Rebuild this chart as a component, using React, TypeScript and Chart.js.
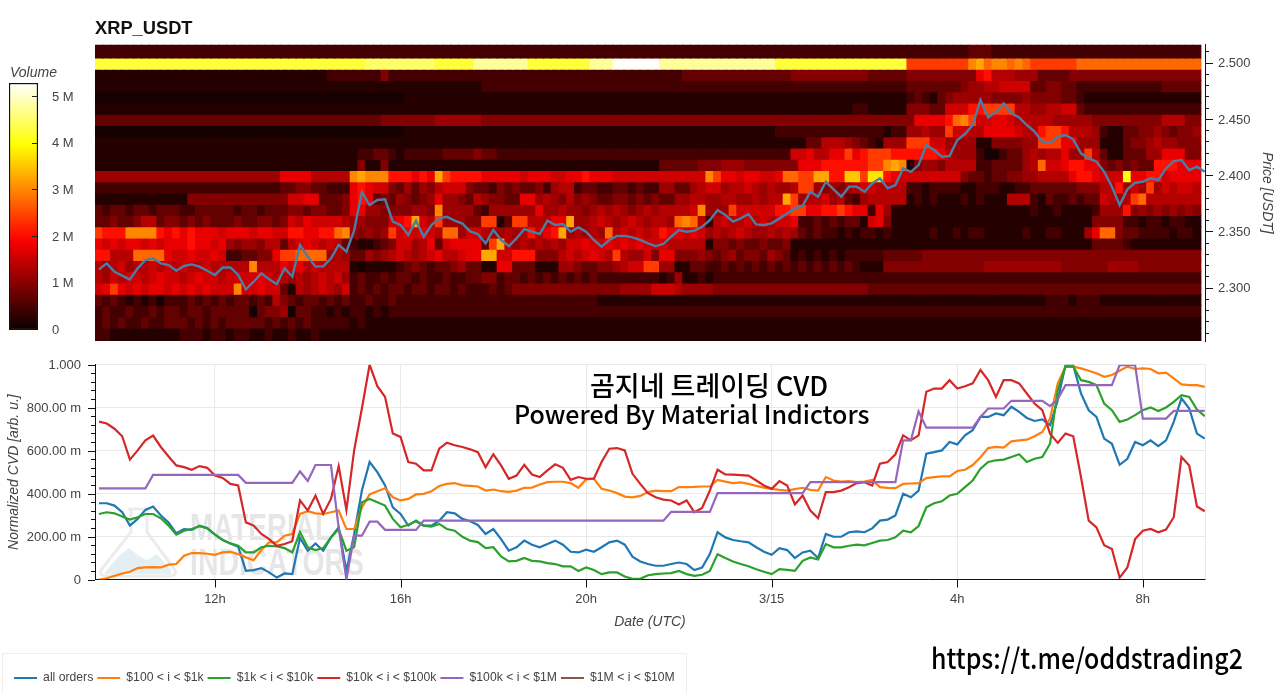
import React, { useEffect, useRef } from "react";
import { Chart, registerables } from "chart.js";

Chart.register(...registerables);

// ---------- data ----------
const seriesNames = ["all orders", "$100 < i < $1k", "$1k < i < $10k", "$10k < i < $100k", "$100k < i < $1M", "$1M < i < $10M"];
const seriesColors = ["#1f77b4", "#ff7f0e", "#2ca02c", "#d62728", "#9467bd", "#8c564b"];

// normalized CVD, in thousandths, one value per 10 minutes from 09:30
const cvdAll = [
  355,355,344,313,251,282,324,340,298,266,
  215,235,231,251,240,209,184,168,153,40,
  44,53,33,9,28,25,193,134,168,134,
  196,243,40,212,414,547,500,438,336,305,
  251,274,251,251,274,313,308,282,271,254,
  212,235,188,134,150,181,162,150,165,181,
  162,129,126,139,129,150,173,181,162,106,
  84,72,64,64,72,79,72,44,56,118,
  220,196,184,178,173,150,129,115,146,137,
  100,126,134,100,212,199,199,220,224,220,
  238,274,279,298,399,383,414,586,593,601,
  640,629,671,695,757,757,773,765,804,780,
  752,738,745,718,835,998,998,866,788,757,
  656,632,534,562,640,625,648,621,648,734,
  843,796,679,656];
const cvd100 = [
  0,6,17,28,36,53,56,58,56,69,
  72,111,123,123,120,115,126,129,118,103,
  90,137,173,173,204,212,305,318,308,305,
  313,321,235,235,336,396,411,425,383,368,
  375,396,399,411,435,445,449,438,436,433,
  414,419,411,408,414,427,428,442,453,455,
  455,449,427,466,469,422,414,402,386,382,
  389,407,414,411,411,430,430,431,433,433,
  464,456,449,452,445,436,428,422,417,414,
  421,427,417,414,477,461,456,458,453,456,
  464,430,427,425,445,447,449,472,477,480,
  480,505,511,533,569,612,617,614,643,648,
  651,667,687,749,913,991,991,983,972,960,
  944,952,972,991,980,983,980,960,963,936,
  908,905,905,897];
const cvd1k = [
  305,313,308,293,279,290,305,305,285,251,
  209,227,235,248,238,209,184,168,157,126,
  126,150,157,154,146,126,220,150,137,146,
  196,235,134,150,360,375,360,344,282,243,
  255,271,251,246,259,235,227,199,181,174,
  146,150,107,84,87,100,87,84,76,72,
  61,61,40,56,44,25,33,33,14,3,
  3,20,25,28,30,40,25,17,22,40,
  118,100,84,72,62,48,36,25,48,45,
  40,87,103,93,165,150,150,157,162,159,
  170,181,184,196,227,220,249,336,355,364,
  391,399,430,461,516,547,555,558,570,583,
  547,562,570,632,882,991,991,928,920,905,
  819,788,734,745,765,788,801,784,801,827,
  858,850,791,760];
const cvd10k = [
  735,726,702,667,558,601,648,670,617,573,
  531,523,511,528,520,484,473,445,438,266,
  251,212,188,157,165,178,368,321,391,305,
  375,528,324,601,796,1000,900,850,680,664,
  547,539,508,508,609,637,625,617,606,593,
  523,583,531,469,484,534,489,477,508,536,
  520,464,477,469,469,547,609,612,601,492,
  445,402,383,372,368,349,368,313,333,414,
  511,489,488,486,484,461,438,422,458,438,
  349,391,321,285,407,407,414,430,449,453,
  438,539,547,583,671,648,671,874,889,889,
  928,889,900,913,975,928,850,928,928,913,
  866,819,788,679,636,679,667,477,274,243,
  160,142,9,56,188,227,235,220,232,290,
  570,531,340,318];
const cvd100k = [
  424,424,424,424,424,424,424,487,487,487,
  487,487,487,487,487,487,487,487,487,450,
  450,450,450,450,450,450,503,459,533,533,
  533,240,0,204,204,269,269,231,231,231,
  231,231,274,274,274,274,274,274,274,274,
  274,274,274,274,274,274,274,274,274,274,
  274,274,274,274,274,274,274,274,274,274,
  274,274,274,274,315,315,315,315,315,315,
  402,402,402,402,402,402,402,402,402,402,
  402,402,453,453,453,453,453,453,453,453,
  453,453,453,453,648,648,783,707,707,707,
  707,707,707,707,757,796,796,796,832,832,
  832,832,832,807,840,905,905,905,905,905,
  905,905,998,998,998,749,749,749,749,785,
  785,785,785,785];
const cvd1m: number[] = [];

const priceLine = [
  2.3163,2.3216,2.3142,2.3107,2.3074,2.3172,2.3246,2.326,2.3216,2.3201,
  2.315,2.3193,2.3207,2.3187,2.315,2.3113,2.318,2.318,2.3113,2.2985,
  2.3053,2.3127,2.3074,2.3033,2.3172,2.3098,2.3379,2.3276,2.3187,2.319,
  2.326,2.338,2.332,2.351,2.385,2.3735,2.378,2.3785,2.3587,2.3557,
  2.347,2.3596,2.3453,2.3557,2.3616,2.363,2.3596,2.357,2.35,2.3477,
  2.3394,2.3513,2.3424,2.337,2.3438,2.352,2.3498,2.3477,2.3596,2.3557,
  2.3566,2.3498,2.3536,2.3498,2.3424,2.3364,2.3424,2.346,2.346,2.3447,
  2.3424,2.3394,2.337,2.3388,2.3453,2.3513,2.3498,2.3507,2.3542,2.36,
  2.369,2.3646,2.3587,2.3616,2.3655,2.3563,2.3557,2.3572,2.3616,2.366,
  2.3705,2.3726,2.3853,2.3809,2.3942,2.3874,2.3809,2.3898,2.3898,2.3853,
  2.3927,2.3972,2.3883,2.3913,2.406,2.403,2.409,2.4268,2.4224,2.4164,
  2.417,2.4313,2.4366,2.4446,2.467,2.4514,2.4564,2.4639,2.455,2.4514,
  2.4446,2.4387,2.4298,2.4289,2.4342,2.4357,2.4319,2.4194,2.415,2.412,
  2.403,2.3898,2.3735,2.3874,2.3933,2.3942,2.3972,2.3957,2.406,2.4126,
  2.4135,2.4046,2.4076,2.403];

// heat map: one string per price row, one character per 10-minute column (volume level, see levelChars)
const levelChars = "0123456789abcdefghijkl";
const levelVolumes = [0.1, 0.2, 0.45, 0.7, 0.95, 1.15, 1.35, 1.55, 1.75, 2.05, 2.4, 2.75, 3, 3.25, 3.5, 3.75, 4, 4.25, 4.5, 4.75, 5, 5.25];
const row2509 = "2222222222 2222222222 2222222222 2222222222 2222222222 2222222222 2222222222 2222222222 2222222222 2222222222 2222222222 2223332222 2222222222 2222222222 222";
const row2499 = "hhhhhhhhhh hhhhhhhhhh hhhhhhhhhh hhhhhiiiii iiiihhhhhj jjjjjjhhhh hhhhjjjlll llljjjjjjj jjjjjjjjhh hhhhhhhhhh hhhhhaaaaa aaacdbccbc baaaaaabbb bbbbbbbbbb bbb";
const row2489 = "1111111111 1111111111 1111111111 2222222422 2222222222 2222222222 2222222222 2222223333 3333333333 4444444444 3333344444 4444896665 5533334444 4444444444 444";
const row2479 = "1111111111 1111111111 1111111111 1111111111 1111111111 2222222222 2222222222 2222222222 2222222222 2222222222 2222233333 3345566777 7334433222 2222222233 333";
const row2469 = "0000000000 0000000000 0000000000 0000000000 1111111111 1111111111 1111111111 1111111111 1111111111 1111111111 1111123213 4555554444 5444433211 1111111111 111";
const row2459 = "1111111111 1111111111 1111111111 1111111111 1111111111 1111111111 1111111111 1111111111 1111111111 1111111122 1111144433 77799aaaa6 6556677322 2222222222 222";
const row2449 = "3333333333 3333333333 3333333333 3333333444 4444555555 4444444444 4444444444 4444444444 4444444444 4444444444 4444448888 9bca778876 6666555554 4444444466 644";
const row2439 = "0000000000 0000000000 0000000000 0000000000 1111111111 1111111111 1111111111 1111111111 1111111122 2222222222 2212255655 a776688887 669aa96665 2113344543 445";
const row2429 = "1111111111 1111111111 1111111111 1111111111 1111111111 1111111111 1111111111 1111111111 1111111111 1133666543 21555aaa77 5555114444 55aaa88555 1113445655 444";
const row2419 = "1111111111 1111111111 1111111111 1111223321 2222233334 3322222222 2222222222 2222222222 2222222222 7786688a89 aaa9999998 6555200233 56566855a6 3113335588 844";
const row2409 = "1111111111 1111111111 1111111111 1111411411 1111111111 1111111111 1111111111 1113333344 4555444444 4888999999 aacdc14554 6666223333 56b7789988 4343433999 888";
const row2399 = "5555555555 5555555555 5555888866 666cdccc99 9898da9999 8888878887 7889888777 777777777c a88788778b baadd99eea ff98777777 7743323344 5566668998 777g889978 888";
const row2389 = "2222222222 2222222222 2222334433 2228987743 5354677743 3243433425 6623322332 3225533567 7566765655 6aa5454567 7666622122 2211222112 2333333444 669575a576 776";
const row2379 = "1111111111 1144444444 4444477883 3348983435 4345855436 5443388565 4645433443 4343355665 566556566d a566756325 6666612121 1121211166 6213223233 7656ab6666 666";
const row2369 = "3233233233 3223333323 3233344344 3348855444 4554c55553 2555555855 6554565654 56566667c5 55a7777799 aa8899a988 2851111111 1111111111 1211211112 5559454545 454";
const row2359 = "3343346634 4343433343 3443476877 7765544478 9d76a55544 aa13aa6668 8d55676567 65665bcb62 6766767677 8223232331 7841111111 1111111111 1111111114 4442212212 211";
const row2349 = "a999cccc98 9898887888 7887799889 9bc54545a7 87876bb577 6556569689 d56565b676 7679887875 6567655656 5323221212 2121111121 1212211111 2112211158 bb43322221 221";
const row2339 = "8787887878 8898878545 5466367876 7632112347 7568378888 3ad6565656 5778778787 8777666661 4434334334 1111111111 1111111111 1111111111 1111111113 3332111111 111";
const row2329 = "99666bbbb8 7787787223 3448aabbbb 5653354567 6567866788 dd77999444 6767876a65 5748844454 3453443543 1212121222 2233333444 4444444444 4444444444 4444444444 444";
const row2319 = "6567566767 6766766666 c666878676 6661011112 3432334533 1188333111 5543344567 7aa5511332 2323232323 2323232321 1144444444 4444455555 5555544444 4555544444 444";
const row2309 = "6576776787 7678776777 7876656567 6752322323 3232232233 4423323232 3232322222 2221251121 2222222222 2222222222 2222222222 2222222222 2222222222 2222222222 222";
const row2299 = "78a8787887 87878777c7 7877316567 6572323233 2332332322 2323444444 4444444455 5577765555 4444444444 4444444444 3333333333 3333333333 3333333333 3333333333 333";
const row2289 = "3232121202 2232323233 2326432332 3232232232 2222222222 2222222222 2222211111 1111111111 1111111111 1111111111 1111111111 1111111111 1112221222 1111111111 111";
const row2279 = "2322322323 3233233333 0344503322 1212212122 2222222222 2222222222 2222222222 2222222222 2222222222 2222222222 2222222222 2222222222 2222222222 2222222222 222";
const row2269 = "2323223223 3323232333 3323232322 2221211111 1111111111 1111111111 1111111111 1111111111 1111111111 1111111111 1111111111 1111111111 1111111111 1111111111 111";
const row2259 = "2211111111 1222122122 1121121121 1111111111 1111111111 1111111111 1111111111 1111111111 1111111111 1111111111 1111111111 1111111111 1111111111 1111111111 111";

const heatRows: [number, string][] = [
  [2.509, row2509], [2.499, row2499], [2.489, row2489], [2.479, row2479], [2.469, row2469], [2.459, row2459],
  [2.449, row2449], [2.439, row2439], [2.429, row2429], [2.419, row2419], [2.409, row2409], [2.399, row2399],
  [2.389, row2389], [2.379, row2379], [2.369, row2369], [2.359, row2359], [2.349, row2349], [2.339, row2339],
  [2.329, row2329], [2.319, row2319], [2.309, row2309], [2.299, row2299], [2.289, row2289], [2.279, row2279],
  [2.269, row2269], [2.259, row2259],
];

const hourTicks = [12, 16, 20, 24, 28, 32];
const hourLabels = ["12h", "16h", "20h", "3/15", "4h", "8h"];
const volumeTicks = [0, 1, 2, 3, 4, 5];

// ---------- scales & helpers ----------
const START_HOUR = 9.5;
const STEP = 1 / 6;
const X_MIN = 9.414;
const X_MAX = 33.34;
const V_MAX = 5.29;
const FONT = "'Liberation Sans', Arial, sans-serif";
const TICK_COLOR = "#444";
const GRID = "#e9e9e9";
const SOFT = "blur(0.45px)";

function hot(v: number) {
  const t = Math.min(1, Math.max(0, v / V_MAX));
  const r = Math.min(1, 0.0416 + (0.9584 * t) / 0.365);
  const g = Math.min(1, Math.max(0, (t - 0.365) / 0.381));
  const b = Math.min(1, Math.max(0, (t - 0.746) / 0.254));
  return `rgb(${Math.round(r * 255)},${Math.round(g * 255)},${Math.round(b * 255)})`;
}

const hourOf = (i: number) => START_HOUR + i * STEP;
const zeroPadding = (s: any) => {
  s.paddingTop = 0;
  s.paddingBottom = 0;
  s.paddingLeft = 0;
  s.paddingRight = 0;
};

function TopChart() {
  const ref = useRef<HTMLCanvasElement>(null);
  useEffect(() => {
    const half = 0.00505;
    const heatSets = heatRows.map(([price, row], r) => {
      const cells = row.replace(/ /g, "").split("").map((c) => levelVolumes[levelChars.indexOf(c)]);
      const hi = r === 0 ? 2.525 : price + half;
      const lo = r === heatRows.length - 1 ? 2.245 : price - half;
      return {
        type: "bar" as const,
        order: 2,
        grouped: false,
        barThickness: 8.2,
        borderWidth: 0,
        data: cells.map((_, i) => ({ x: hourOf(i), y: [lo, hi] })),
        backgroundColor: cells.map((v) => hot(v)),
      };
    });
    const yTicks: number[] = [];
    for (let k = 226; k <= 251; k++) yTicks.push(k / 100);
    const chart = new Chart(ref.current!, {
      type: "bar",
      data: {
        datasets: [
          ...heatSets,
          {
            type: "line" as const,
            order: 0,
            data: priceLine.map((y, i) => ({ x: hourOf(i), y })),
            borderColor: "#4a7ea6",
            borderWidth: 2.4,
            pointRadius: 0,
            tension: 0,
          },
        ] as any,
      },
      options: {
        animation: false,
        responsive: false,
        devicePixelRatio: 1,
        events: [],
        layout: { padding: { left: 95, top: 44.7, bottom: 9, right: 0 } },
        plugins: { legend: { display: false }, tooltip: { enabled: false } },
        scales: {
          x: { type: "linear", display: false, offset: false, min: X_MIN, max: X_MAX, grid: { display: false, offset: false } },
          y: {
            type: "linear",
            position: "right",
            beginAtZero: false,
            min: 2.2526,
            max: 2.516,
            grid: { display: false, drawTicks: false },
            border: { display: true, color: "#111", width: 1 },
            afterBuildTicks: (s: any) => { s.ticks = yTicks.map((value) => ({ value })); },
            afterFit: (s: any) => { s.width = 75; zeroPadding(s); },
            ticks: {
              autoSkip: false,
              padding: 13,
              labelOffset: 1,
              color: TICK_COLOR,
              font: { family: FONT, size: 13 },
              callback: (v: any) => (Math.round(v * 100) % 5 === 0 ? Number(v).toFixed(3) : ""),
            },
            title: {
              display: true,
              text: "Price [USDT]",
              color: TICK_COLOR,
              font: { family: FONT, size: 14, style: "italic", weight: "normal" },
              padding: { top: 4.6, bottom: 0 },
            },
          },
        },
      },
      plugins: [
        {
          id: "priceTicks",
          afterDraw(c: any) {
            const s = c.scales.y;
            const g = c.ctx;
            g.save();
            g.strokeStyle = "#111";
            g.lineWidth = 1;
            for (const v of yTicks) {
              const y = Math.round(s.getPixelForValue(v)) + 0.5;
              const major = Math.round(v * 100) % 5 === 0;
              g.beginPath();
              g.moveTo(s.left, y);
              g.lineTo(s.left + (major ? 8 : 4), y);
              g.stroke();
            }
            g.restore();
          },
        },
      ],
    } as any);
    return () => chart.destroy();
  }, []);
  return <canvas ref={ref} width={1280} height={350} style={{ position: "absolute", left: 0, top: 0, filter: SOFT }} />;
}

function ColorBar() {
  const ref = useRef<HTMLCanvasElement>(null);
  useEffect(() => {
    const chart = new Chart(ref.current!, {
      type: "bar",
      data: {
        labels: ["Volume"],
        datasets: [
          {
            data: [[-0.015, 5.285]],
            barPercentage: 1,
            categoryPercentage: 1,
            borderWidth: 1.5,
            borderColor: "#111",
            borderSkipped: false,
            backgroundColor: (ctx: any) => {
              const { chart: ch } = ctx;
              if (!ch.chartArea) return "#000";
              const s = ch.scales.y;
              const g = ch.ctx.createLinearGradient(0, s.getPixelForValue(0), 0, s.getPixelForValue(V_MAX));
              for (let k = 0; k <= 20; k++) g.addColorStop(k / 20, hot((k / 20) * V_MAX));
              return g;
            },
          },
        ],
      },
      options: {
        animation: false,
        responsive: false,
        devicePixelRatio: 1,
        events: [],
        layout: { padding: { left: 9, top: 23, bottom: 20, right: 0 } },
        plugins: { legend: { display: false }, tooltip: { enabled: false } },
        scales: {
          x: { display: false, grid: { display: false } },
          y: {
            position: "right",
            beginAtZero: false,
            min: -0.015,
            max: 5.285,
            grid: { display: false, drawTicks: false },
            border: { display: false },
            afterBuildTicks: (s: any) => { s.ticks = volumeTicks.map((value) => ({ value })); },
            afterFit: (s: any) => { s.width = 52; zeroPadding(s); },
            ticks: {
              padding: 14,
              labelOffset: 1,
              color: TICK_COLOR,
              font: { family: FONT, size: 13 },
              callback: (v: any) => (v === 0 ? "0" : `${v} M`),
            },
          },
        },
      },
      plugins: [
        {
          id: "barTicks",
          afterDraw(c: any) {
            const s = c.scales.y;
            const g = c.ctx;
            g.save();
            g.strokeStyle = "#222";
            g.lineWidth = 1;
            for (const v of volumeTicks) {
              if (v === 0) continue;
              const y = Math.round(s.getPixelForValue(v)) + 0.5;
              g.beginPath();
              g.moveTo(c.chartArea.right - 6, y);
              g.lineTo(c.chartArea.right, y);
              g.stroke();
            }
            g.restore();
          },
        },
      ],
    } as any);
    return () => chart.destroy();
  }, []);
  return <canvas ref={ref} width={90} height={290} style={{ position: "absolute", left: 0, top: 60, filter: SOFT }} />;
}

function CvdChart() {
  const ref = useRef<HTMLCanvasElement>(null);
  useEffect(() => {
    const series = [cvdAll, cvd100, cvd1k, cvd10k, cvd100k, cvd1m];
    const yTicks: number[] = [];
    for (let k = 0; k <= 25; k++) yTicks.push(k * 40);
    const chart = new Chart(ref.current!, {
      type: "line",
      data: {
        datasets: series.map((values, s) => ({
          label: seriesNames[s],
          order: series.length - s,
          data: values.map((y, i) => ({ x: hourOf(i), y })),
          borderColor: seriesColors[s],
          backgroundColor: seriesColors[s],
          borderWidth: 2.2,
          pointRadius: 0,
          tension: 0,
        })),
      },
      options: {
        animation: false,
        responsive: false,
        devicePixelRatio: 1,
        events: [],
        layout: { padding: { left: 0, top: 14.7, bottom: 0, right: 75 } },
        plugins: {
          tooltip: { enabled: false },
          legend: {
            display: true,
            position: "bottom",
            align: "start",
            labels: {
              boxWidth: 23,
              boxHeight: 2,
              padding: 4,
              color: TICK_COLOR,
              font: { family: FONT, size: 12.2 },
              sort: (a: any, b: any) => a.datasetIndex - b.datasetIndex,
              generateLabels: (c: any) =>
                Chart.defaults.plugins.legend.labels.generateLabels(c).map((l: any) => ({ ...l, lineWidth: 0, fillStyle: l.strokeStyle })),
            },
          },
        },
        scales: {
          x: {
            type: "linear",
            min: X_MIN,
            max: X_MAX,
            border: { display: true, color: "#111", width: 1 },
            grid: { color: GRID, drawTicks: false },
            afterBuildTicks: (s: any) => { s.ticks = hourTicks.map((value) => ({ value })); },
            afterFit: (s: any) => { s.height = 88.3; zeroPadding(s); },
            ticks: {
              autoSkip: false,
              maxRotation: 0,
              padding: 12,
              color: TICK_COLOR,
              font: { family: FONT, size: 13 },
              callback: (v: any) => hourLabels[hourTicks.indexOf(v)],
            },
            title: {
              display: true,
              text: "Date (UTC)",
              color: TICK_COLOR,
              font: { family: FONT, size: 14, style: "italic", weight: "normal" },
              padding: { top: 0, bottom: 37.6 },
            },
          },
          y: {
            type: "linear",
            min: 0,
            max: 1000,
            border: { display: true, color: "#111", width: 1 },
            grid: {
              drawTicks: false,
              color: (ctx: any) => (ctx.tick && ctx.tick.value % 200 === 0 ? GRID : "rgba(0,0,0,0)"),
            },
            afterBuildTicks: (s: any) => { s.ticks = yTicks.map((value) => ({ value })); },
            afterFit: (s: any) => { s.width = 95; zeroPadding(s); },
            ticks: {
              autoSkip: false,
              padding: 14,
              labelOffset: 1,
              color: TICK_COLOR,
              font: { family: FONT, size: 13 },
              callback: (v: any) => {
                if (v % 200 !== 0) return "";
                if (v === 0) return "0";
                if (v === 1000) return "1.000";
                return `${v}.00 m`;
              },
            },
            title: {
              display: true,
              text: "Normalized CVD [arb. u.]",
              color: TICK_COLOR,
              font: { family: FONT, size: 14, style: "italic", weight: "normal" },
              padding: { top: 5.6, bottom: 0 },
            },
          },
        },
      },
      plugins: [
        {
          id: "cvdTicks",
          afterLayout(c: any) {
            c.legend.left = 10;
          },
          beforeDatasetsDraw(c: any) {
            const g = c.ctx;
            const a = c.chartArea;
            g.save();
            g.strokeStyle = GRID;
            g.lineWidth = 1;
            g.beginPath();
            g.moveTo(a.right + 0.5, a.top);
            g.lineTo(a.right + 0.5, a.bottom);
            g.stroke();
            g.restore();
          },
          afterDraw(c: any) {
            const g = c.ctx;
            const sy = c.scales.y;
            const sx = c.scales.x;
            g.save();
            g.strokeStyle = "#111";
            g.lineWidth = 1;
            for (const v of yTicks) {
              const y = Math.round(sy.getPixelForValue(v)) + 0.5;
              g.beginPath();
              g.moveTo(sy.right, y);
              g.lineTo(sy.right - (v % 200 === 0 ? 7 : 4), y);
              g.stroke();
            }
            for (const v of hourTicks) {
              const x = Math.round(sx.getPixelForValue(v)) + 0.5;
              g.beginPath();
              g.moveTo(x, sx.top);
              g.lineTo(x, sx.top + 8);
              g.stroke();
            }
            g.restore();
          },
        },
      ],
    } as any);
    return () => chart.destroy();
  }, []);
  return <canvas ref={ref} width={1280} height={344} style={{ position: "absolute", left: 0, top: 350, filter: SOFT }} />;
}

const textBase: React.CSSProperties = { position: "absolute", whiteSpace: "nowrap", lineHeight: 1, margin: 0 };

export default function App() {
  return (
    <div style={{ position: "absolute", left: 0, top: 0, width: 1280, height: 694, overflow: "hidden", background: "#fff", fontFamily: FONT }}>
      {/* watermark behind the CVD lines */}
      <svg width={290} height={85} style={{ position: "absolute", left: 95, top: 500, filter: "blur(0.6px)" }}>
        <path d="M33 9 L53 9 M36 9 L36 32 L6 70 Q4 76 12 76 L74 76 Q82 76 80 70 L52 32 L52 9" fill="none" stroke="#ececec" strokeWidth={3} />
        <path d="M10 72 L24 56 L34 48 L44 56 L52 60 L62 54 L76 70 L76 74 L10 74 Z" fill="#e4eff3" />
        <text x={95} y={40} fontFamily={FONT} fontWeight="bold" fontSize={36} fill="#e6e6e6" textLength={142} lengthAdjust="spacingAndGlyphs">MATERIAL</text>
        <text x={95} y={75} fontFamily={FONT} fontWeight="bold" fontSize={36} fill="#e6e6e6" textLength={174} lengthAdjust="spacingAndGlyphs">INDICATORS</text>
      </svg>
      {/* legend frame */}
      <div style={{ position: "absolute", left: 2, top: 653, width: 685, height: 50, border: "1px solid #eeeeee", boxSizing: "border-box" }} />
      <TopChart />
      <ColorBar />
      <CvdChart />
      <div style={{ ...textBase, left: 95, top: 19, fontWeight: "bold", fontSize: 18.3, color: "#111" }}>XRP_USDT</div>
      <div style={{ ...textBase, left: 10, top: 65, fontStyle: "italic", fontSize: 14, color: TICK_COLOR }}>Volume</div>
      <div style={{ ...textBase, left: 590, top: 371, fontFamily: "'Noto Sans CJK KR'", fontSize: 27, fontWeight: 500, color: "#000" }}>곰지네 트레이딩 CVD</div>
      <div style={{ ...textBase, left: 514, top: 401, fontFamily: "'Noto Sans CJK KR'", fontSize: 25, fontWeight: 500, color: "#000" }}>Powered By Material Indictors</div>
      <div style={{ ...textBase, left: 931, top: 643, fontFamily: "'Noto Sans CJK KR'", fontSize: 28, fontWeight: 500, color: "#000", transform: "scaleX(0.89)", transformOrigin: "left center" }}>https://t.me/oddstrading2</div>
    </div>
  );
}
